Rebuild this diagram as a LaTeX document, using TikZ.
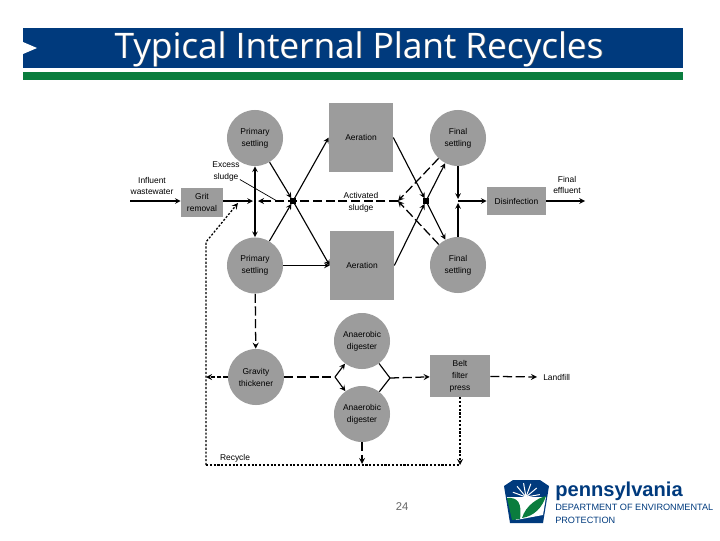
\documentclass[tikz,border=0pt]{standalone}
\usepackage{fontspec}
\setmainfont{Liberation Sans}
\newfontfamily\titlefont{Open Sans}
\definecolor{barblue}{HTML}{003A7D}
\definecolor{bargreen}{HTML}{0A7D3E}
\definecolor{tank}{HTML}{9C9C9C}
\tikzset{
  tankcirc/.style={circle,fill=tank,minimum size=1.4cm,inner sep=0pt,align=center,font=\fontsize{6}{8.5}\selectfont},
  tankbox/.style={rectangle,fill=tank,inner sep=0pt,align=center,font=\fontsize{6}{8.5}\selectfont},
  lbl/.style={inner sep=0pt,align=center,font=\fontsize{6}{8.5}\selectfont},
  joint/.style={rectangle,fill=black,minimum size=3.6pt,inner sep=0pt},
  pipe/.style={-stealth,line width=0.8pt},
  sludgeline/.style={pipe,line width=0.9pt,dash pattern=on 6.5pt off 2.5pt},
  recycleline/.style={pipe,line width=0.9pt,dash pattern=on 1.5pt off 1.2pt}
}
\begin{document}
\begin{tikzpicture}[x=0.025cm,y=-0.025cm]
  \useasboundingbox (0,0) rectangle (720,540);
  % title bars
  \fill[barblue] (23,28) rectangle (683,68);
  \fill[bargreen] (23,72) rectangle (683,80);
  \fill[white] (23,42) -- (37,48) -- (23,54) -- cycle;
  \node[text=black!60,font=\titlefont\fontsize{25}{28}\selectfont,inner sep=0pt] at (359.6,49.6) {Typical Internal Plant Recycles};
  \node[text=white,font=\titlefont\fontsize{25}{28}\selectfont,inner sep=0pt] (title) at (359,49) {Typical Internal Plant Recycles};
  % tanks
  \node[tankcirc] (prim1) at (255,138) {Primary\\settling};
  \node[tankcirc] (prim2) at (255,265.5) {Primary\\settling};
  \node[tankcirc] (final1) at (458,138) {Final\\settling};
  \node[tankcirc] (final2) at (458,265) {Final\\settling};
  \node[tankcirc] (grav) at (256,377) {Gravity\\thickener};
  \node[tankcirc] (dig1) at (362,341) {Anaerobic\\digester};
  \node[tankcirc] (dig2) at (362,414) {Anaerobic\\digester};
  \node[tankbox,minimum width=1.6cm,minimum height=1.725cm] (aer1) at (361,137.5) {Aeration};
  \node[tankbox,minimum width=1.6cm,minimum height=1.725cm] (aer2) at (362,265.5) {Aeration};
  \node[tankbox,minimum width=1.05cm,minimum height=0.725cm] (grit) at (202,202.5) {Grit\\removal};
  \node[tankbox,minimum width=1.475cm,minimum height=0.7cm] (dis) at (516.5,201) {Disinfection};
  \node[tankbox,minimum width=1.5cm,minimum height=1.05cm] (belt) at (460,376) {Belt\\filter\\press};
  \node[joint] (jleft) at (293,201) {};
  \node[joint] (jright) at (426,201) {};
  % labels
  \node[lbl] (inlbl) at (152,186) {Influent\\wastewater};
  \node[lbl] (exlbl) at (226,171.5) {Excess\\sludge};
  \node[lbl] (aslbl) at (361,202) {Activated\\sludge};
  \node[lbl] (outlbl) at (567,185) {Final\\effluent};
  \node[lbl,anchor=west] (landlbl) at (543,377) {Landfill};
  \node[lbl] (reclbl) at (235,458) {Recycle};
  % free ends
  \coordinate (inflow) at (130,201);
  \coordinate (outflow) at (585,201);
  \coordinate (gritend) at (253,201);
  \coordinate (rasmeet) at (258,201);
  \coordinate (rasfork) at (398,201);
  \coordinate (fsjoin) at (458,201);
  \coordinate (fsup) at (458,199);
  \coordinate (fsdn) at (458,203);
  \coordinate (digin) at (335,377);
  \coordinate (digout) at (390,378);
  \coordinate (landend) at (537,377);
  \coordinate (rleft) at (206,377);
  \coordinate (rcorner) at (206,465);
  \coordinate (rbend) at (206,242);
  \coordinate (rtip) at (238,203);
  \coordinate (rdig) at (362,464);
  \coordinate (rbelt) at (460,465);
  % main flow
  \draw[pipe] (inflow) -- (grit.west |- inflow);
  \draw[pipe] (grit.east |- gritend) -- (gritend);
  \draw[pipe,stealth-stealth] (prim1) -- (prim2);
  \draw[pipe] (prim1) -- (jleft);
  \draw[pipe] (prim2) -- (jleft);
  \draw[pipe] (jleft) -- (aer1.west);
  \draw[pipe] (jleft) -- (aer2.west);
  \draw[pipe] (prim2) -- (aer2.west);
  \draw[pipe] (aer1.east) -- (jright);
  \draw[pipe] (aer2.east) -- (jright);
  \draw[pipe] (jright) -- (final1);
  \draw[pipe] (jright) -- (final2);
  \draw[pipe] (final1) -- (fsup);
  \draw[pipe] (final2) -- (fsdn);
  \draw[pipe] (fsjoin) -- (dis);
  \draw[pipe] (dis) -- (outflow);
  \draw[line width=0.5pt] (exlbl) -- (277,201);
  % sludge
  \draw[sludgeline] (rasfork) -- (rasmeet);
  \draw[sludgeline] (final1) -- (rasfork);
  \draw[sludgeline] (final2) -- (rasfork);
  \draw[sludgeline] (prim2) -- (grav);
  \draw[sludgeline,-] (grav) -- (digin);
  \draw[pipe] (digin) -- (dig1);
  \draw[pipe] (digin) -- (dig2);
  \draw[pipe,-] (dig1) -- (digout);
  \draw[pipe,-] (dig2) -- (digout);
  \draw[sludgeline] (digout) -- (belt);
  \draw[sludgeline] (belt) -- (landend);
  \draw[sludgeline] (dig2) -- (rdig);
  \draw[sludgeline,dash pattern=on 3pt off 1.5pt] (grav) -- (rleft);
  % recycle
  \draw[recycleline,-] (rcorner) -- (rbelt);
  \draw[recycleline] (belt.south) -- (rbelt);
  \draw[recycleline] (rcorner) -- (rbend) -- (rtip);
  % page number and logo
  \node[text=black!60,font=\fontsize{8}{10}\selectfont,inner sep=0pt] (pageno) at (402,507) {24};
  \fill[barblue] (513,480) -- (540,480) -- (549,486) -- (543,523) -- (510,523) -- (504,486) -- cycle;
  \foreach \ang in {20,50,...,170}
    \draw[white,line width=0.7pt] (526,497) -- ++(\ang:-14);
  \fill[white] (507,497) -- (546,497) -- (543,515) -- (516,520) -- cycle;
  \fill[white] (526,497) ++(-6,0) arc[start angle=180,end angle=0,radius=6] -- cycle;
  \fill[bargreen] (507,498) .. controls (518,497) and (522,503) .. (520,519) -- (512,520) -- cycle;
  \fill[bargreen] (546,496) .. controls (538,498) and (526,505) .. (522,518) .. controls (534,516) and (542,508) .. (546,496) -- cycle;
  \node[anchor=west,text=barblue,font=\bfseries\fontsize{14.3}{16}\selectfont,inner sep=0pt] (pa) at (555,491) {pennsylvania};
  \node[anchor=west,text=barblue,font=\fontsize{6.5}{9}\selectfont,inner sep=0pt] (dep) at (555,507) {DEPARTMENT OF ENVIRONMENTAL};
  \node[anchor=west,text=barblue,font=\fontsize{6.5}{9}\selectfont,inner sep=0pt] (prot) at (555,520) {PROTECTION};
\end{tikzpicture}
\end{document}
